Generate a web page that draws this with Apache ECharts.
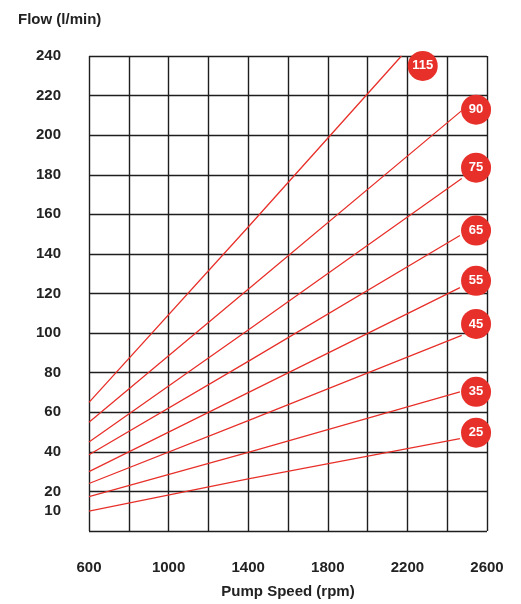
<!DOCTYPE html>
<html>
<head>
<meta charset="utf-8">
<script src="https://cdn.jsdelivr.net/npm/echarts@6/dist/echarts.min.js"></script>
<style>html,body{margin:0;padding:0;background:#fff;overflow:hidden}#c{width:521px;height:604px}</style>
</head>
<body>
<div id="c"></div>
<script>
// Data
var sizes = ['115', '90', '75', '65', '55', '45', '35', '25'];
var rpmPoints = [[600, 1400, 2170], [600, 1400, 2473], [600, 1400, 2473], [600, 1400, 2464],
                 [600, 1400, 2464], [600, 1400, 2473], [600, 1400, 2464], [600, 1400, 2464]];
var flowPoints = [[65, 153.6, 240], [55, 122.2, 212.4], [45, 101.6, 178.1], [38.5, 85.7, 149.3],
                  [30, 69.9, 123.0], [24, 55.8, 98.8], [17.4, 39.7, 70.3], [10, 26.3, 46.7]];
var badgeRpm = [2277, 2545, 2545, 2545, 2545, 2545, 2545, 2545];
var badgeFlow = [235, 212.9, 183.6, 151.8, 126.4, 104.6, 70.3, 49.7];
var yTickLabels = [10, 20, 40, 60, 80, 100, 120, 140, 160, 180, 200, 220, 240];
var xTickLabels = [600, 1000, 1400, 1800, 2200, 2600];

var RED = '#e8302a';
var FONT = 'Liberation Sans, Arial, sans-serif';

var series = [];
sizes.forEach(function (s, i) {
  series.push({
    type: 'line', name: s, yAxisIndex: 0, symbol: 'none', silent: true,
    lineStyle: { color: RED, width: 1.3 }, clip: true,
    data: rpmPoints[i].map(function (r, j) { return [r, flowPoints[i][j]]; }),
    z: 3
  });
});
series.push({
  type: 'scatter', yAxisIndex: 0, symbol: 'circle', symbolSize: 30, silent: true,
  itemStyle: { color: RED, opacity: 1 }, clip: false, z: 5,
  label: { show: true, position: 'inside', color: '#fff', fontWeight: 'bold', fontSize: 13, fontFamily: FONT,
           formatter: function (p) { return p.data[2]; } },
  data: sizes.map(function (s, i) { return [badgeRpm[i], badgeFlow[i], s]; })
});

var chart = echarts.init(document.getElementById('c'), null, { renderer: 'canvas' });
chart.setOption({
  animation: false,
  backgroundColor: '#fff',
  grid: { left: 89, right: 34, top: 56, bottom: 67, containLabel: false },
  title: { text: 'Flow (l/min)', left: 13, top: 7,
           textStyle: { fontFamily: FONT, fontWeight: 'bold', fontSize: 15, color: '#222' } },
  xAxis: {
    type: 'value', min: 600, max: 2600, interval: 200,
    name: 'Pump Speed (rpm)', nameLocation: 'middle', nameGap: 53,
    nameTextStyle: { fontFamily: FONT, fontWeight: 'bold', fontSize: 15, color: '#222' },
    axisLine: { show: false }, axisTick: { show: false },
    splitLine: { show: true, lineStyle: { color: '#1e1e1e', width: 1.4 } },
    axisLabel: { margin: 29, fontFamily: FONT, fontWeight: 'bold', fontSize: 15, color: '#222',
                 formatter: function (v) { return xTickLabels.indexOf(v) >= 0 ? String(v) : ''; } }
  },
  yAxis: [{
    type: 'value', min: 0, max: 240, interval: 10, position: 'left',
    axisLine: { show: false }, axisTick: { show: false }, splitLine: { show: false },
    axisLabel: { margin: 28, fontFamily: FONT, fontWeight: 'bold', fontSize: 15, color: '#222',
                 formatter: function (v) { return yTickLabels.indexOf(v) >= 0 ? String(v) : ''; } }
  }, {
    type: 'value', min: 0, max: 240, interval: 20, position: 'left',
    axisLine: { show: false }, axisTick: { show: false }, axisLabel: { show: false },
    splitLine: { show: true, lineStyle: { color: '#1e1e1e', width: 1.4 } }
  }],
  series: series
});
</script>
</body>
</html>
